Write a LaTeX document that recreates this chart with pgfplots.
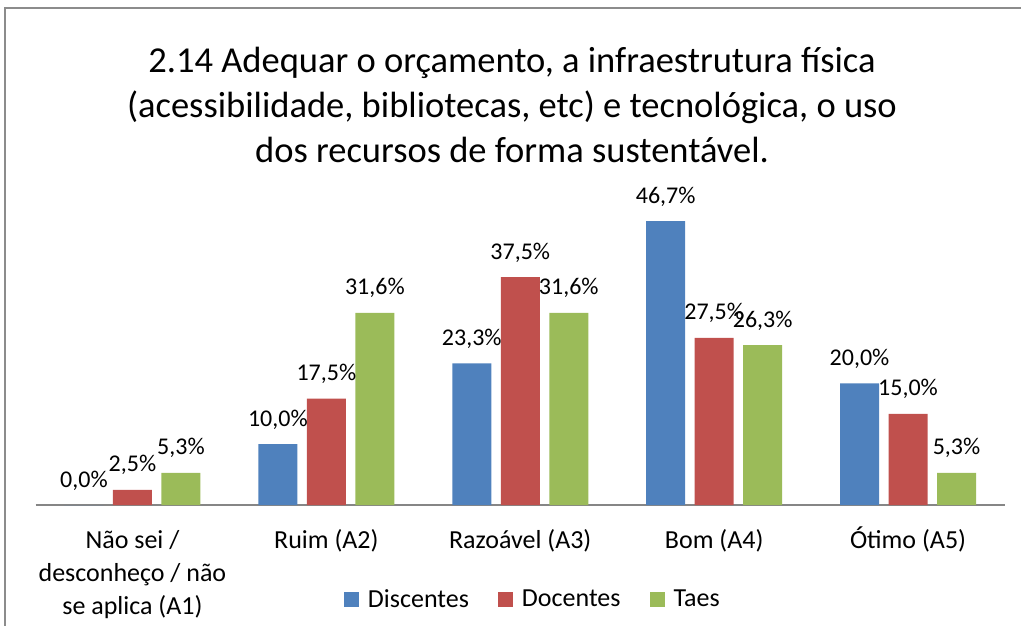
\documentclass[border=0pt]{standalone}
\usepackage{pgfplots}
\pgfplotsset{compat=1.18}
\usepackage{fontspec}
\setmainfont{Carlito}
\definecolor{cA}{HTML}{4F81BD}
\definecolor{cB}{HTML}{C0504D}
\definecolor{cC}{HTML}{9BBB59}
\definecolor{brd}{HTML}{8C8C8C}
\definecolor{axc}{HTML}{868686}
\begin{document}
\begin{tikzpicture}[x=1pt,y=1pt]
\useasboundingbox (0,0) rectangle (1021,625);
\draw[brd,line width=1.5pt] (5,-5) -- (5,617) -- (1030,617);
\node[align=center,font=\fontsize{36.5}{45}\selectfont] at (512,520) {2.14 Adequar o orçamento, a infraestrutura física\\(acessibilidade, bibliotecas, etc) e tecnológica, o uso\\dos recursos de forma sustentável.};
\begin{axis}[
  at={(35.5pt,120pt)}, anchor=south west,
  scale only axis, width=969.5pt, height=304pt,
  xmin=-0.5, xmax=4.5, ymin=0, ymax=50,
  axis x line=bottom, axis y line=none,
  axis line style={-, axc, line width=1.5pt},
  xtick={0,1,2,3,4},
  xticklabels={{\rule{0pt}{22pt}Não sei /\\desconheço / não\\se aplica (A1)},{\rule{0pt}{22pt}Ruim (A2)},{\rule{0pt}{22pt}Razoável (A3)},{\rule{0pt}{22pt}Bom (A4)},{\rule{0pt}{22pt}Ótimo (A5)}},
  major tick length=0pt,
  xticklabel style={align=center, anchor=north, inner sep=0pt, yshift=-21pt, font=\fontsize{26}{33}\selectfont},
  ybar=9.5pt, bar width=39pt,
  nodes near coords={\pgfmathprintnumber[fixed,fixed zerofill,precision=1,use comma,assume math mode=true]{\pgfplotspointmeta}\%},
  every node near coord/.append style={anchor=base, inner sep=0pt, yshift=18pt, font=\fontsize{24}{29}\selectfont, black},
  legend columns=3,
  legend style={draw=none, at={(0.513,-0.31)}, anchor=center, font=\fontsize{26}{31}\selectfont, inner sep=0pt,
    /tikz/every odd column/.append style={column sep=7pt},
    /tikz/every even column/.append style={column sep=27pt}},
  legend image code/.code={\fill[#1] (0pt,-7.5pt) rectangle (15pt,7.5pt);},
  clip=false,
]
\addplot[fill=cA, draw=none] coordinates {(0,0) (1,10) (2,23.3) (3,46.7) (4,20)};
\addplot[fill=cB, draw=none] coordinates {(0,2.5) (1,17.5) (2,37.5) (3,27.5) (4,15)};
\addplot[fill=cC, draw=none] coordinates {(0,5.3) (1,31.6) (2,31.6) (3,26.3) (4,5.3)};
\legend{Discentes,Docentes,Taes}
\end{axis}
\end{tikzpicture}
\end{document}
